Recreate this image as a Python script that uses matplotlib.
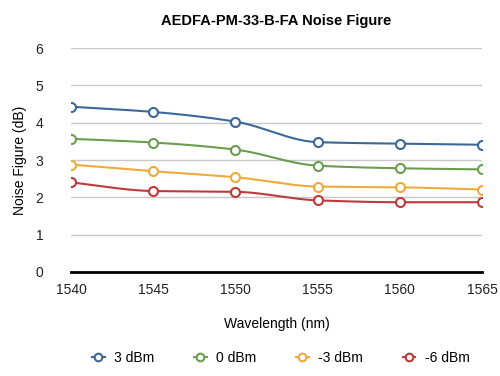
import numpy as np
import matplotlib
matplotlib.use("Agg")
import matplotlib.pyplot as plt

plt.rcParams['font.family'] = ['Liberation Sans', 'DejaVu Sans']

wavelengths = [1540, 1545, 1550, 1555, 1560, 1565]
series_names = ["3 dBm", "0 dBm", "-3 dBm", "-6 dBm"]
nf_3dbm = [4.43, 4.29, 4.03, 3.48, 3.44, 3.41]
nf_0dbm = [3.57, 3.47, 3.28, 2.85, 2.78, 2.75]
nf_m3dbm = [2.88, 2.70, 2.54, 2.29, 2.27, 2.21]
nf_m6dbm = [2.40, 2.17, 2.15, 1.92, 1.87, 1.87]
colors = ["#3c6899", "#6b9d4e", "#eeab3c", "#c0393a"]


def pchip(x, y, n=200):
    x = np.asarray(x, float); y = np.asarray(y, float)
    h = np.diff(x); d = np.diff(y) / h
    m = np.zeros_like(y)
    for k in range(1, len(x) - 1):
        if d[k - 1] * d[k] > 0:
            w1 = 2 * h[k] + h[k - 1]; w2 = h[k] + 2 * h[k - 1]
            m[k] = (w1 + w2) / (w1 / d[k - 1] + w2 / d[k])
    m[0] = d[0]; m[-1] = d[-1]
    xs, ys = [], []
    for k in range(len(x) - 1):
        t = np.linspace(0, 1, n // len(h))
        h00 = 2*t**3 - 3*t**2 + 1; h10 = t**3 - 2*t**2 + t
        h01 = -2*t**3 + 3*t**2; h11 = t**3 - t**2
        xs.append(x[k] + t * h[k])
        ys.append(h00*y[k] + h10*h[k]*m[k] + h01*y[k+1] + h11*h[k]*m[k+1])
    return np.concatenate(xs), np.concatenate(ys)


fig = plt.figure(figsize=(5, 3.76), dpi=100)
ax = fig.add_axes([0.142, 0.2766, 0.822, 0.5954])

for name, vals, c in zip(series_names, [nf_3dbm, nf_0dbm, nf_m3dbm, nf_m6dbm], colors):
    sx, sy = pchip(wavelengths, vals)
    ax.plot(sx, sy, color=c, lw=1.5, zorder=3)
    ax.plot(wavelengths, vals, ls='none', marker='o', ms=6.5, mfc='white',
            mec=c, mew=1.5, zorder=4)
    ax.plot([], [], color=c, marker='o', ms=5.5, mfc='white', mec=c, mew=1.5,
            lw=1.5, label=name)

ax.set_xlim(1540, 1565)
ax.set_ylim(0, 6)
ax.set_xticks(wavelengths)
ax.set_yticks(range(0, 7))
ax.grid(axis='y', color='#c8c8c8', lw=1)
ax.set_axisbelow(True)
for s in ['top', 'right', 'left']:
    ax.spines[s].set_visible(False)
ax.spines['bottom'].set_color('black')
ax.spines['bottom'].set_linewidth(2)
ax.spines['bottom'].set_zorder(5)
ax.tick_params(axis='both', length=0, labelsize=10, colors='#222222', pad=8)
ax.tick_params(axis='y', pad=20)

ax.set_title("AEDFA-PM-33-B-FA Noise Figure", fontsize=10.5, fontweight='bold', pad=17)
ax.set_xlabel("Wavelength (nm)", fontsize=10, labelpad=14)
ax.set_ylabel("Noise Figure (dB)", fontsize=10, labelpad=6)

fig.legend(loc='center', bbox_to_anchor=(0.562, 0.047), ncol=4, frameon=False,
           fontsize=10, handlelength=0.9, columnspacing=2.85, handletextpad=0.7)

fig.savefig("out.png", dpi=100)
